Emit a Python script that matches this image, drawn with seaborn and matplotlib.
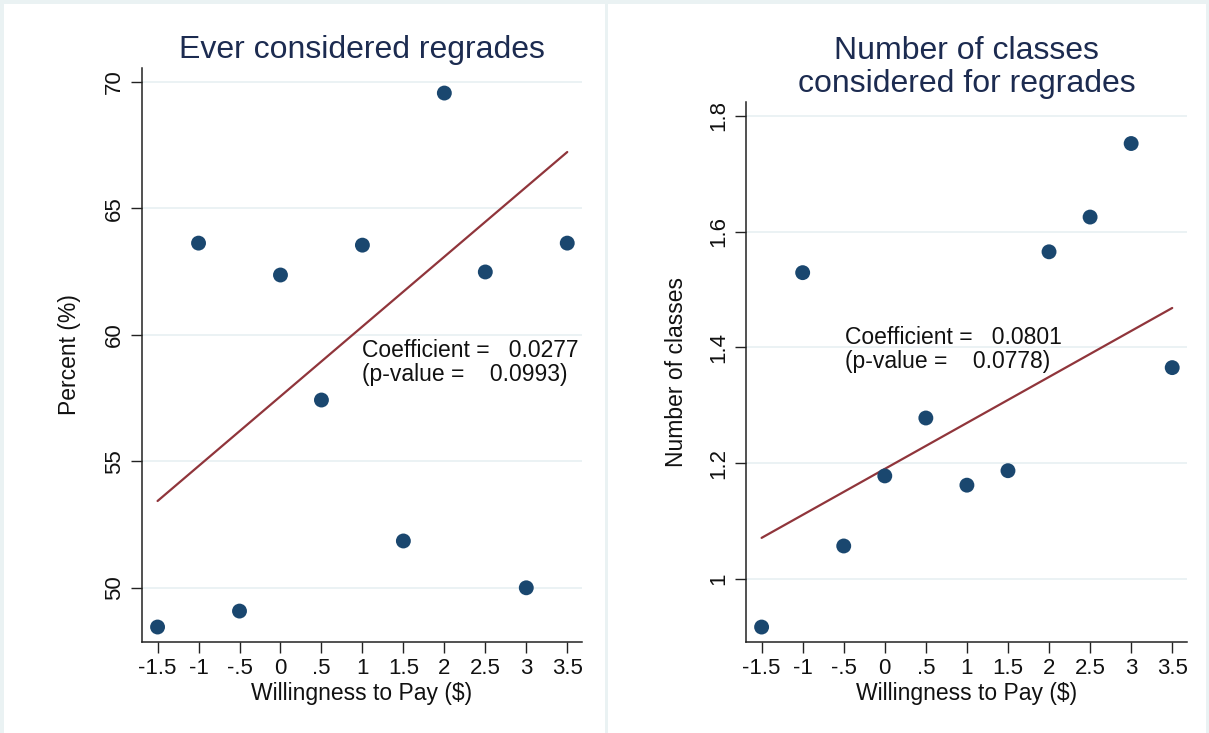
import pandas as pd
import matplotlib.pyplot as plt
import matplotlib.patches as mpatches
import seaborn as sns

# Binned means by willingness to pay
wtp = [-1.5, -1, -0.5, 0, 0.5, 1, 1.5, 2, 2.5, 3, 3.5]
pct_considered = [48.45, 63.62, 49.08, 62.36, 57.42, 63.54, 51.85, 69.55, 62.48, 50.0, 63.62]
num_classes = [0.917, 1.529, 1.057, 1.178, 1.278, 1.162, 1.187, 1.565, 1.625, 1.752, 1.365]

# Fitted lines (endpoints)
fit_x = [-1.5, 3.5]
fit_pct = [53.43, 67.22]
fit_classes = [1.071, 1.468]

xticks = [-1.5, -1, -0.5, 0, 0.5, 1, 1.5, 2, 2.5, 3, 3.5]
xtick_labels = ["-1.5", "-1", "-.5", "0", ".5", "1", "1.5", "2", "2.5", "3", "3.5"]
yticks_pct = [50, 55, 60, 65, 70]
yticks_classes = [1, 1.2, 1.4, 1.6, 1.8]
ytick_labels_classes = ["1", "1.2", "1.4", "1.6", "1.8"]

stats_pct = ("0.0277", "0.0993")
stats_classes = ("0.0801", "0.0778")

df = pd.DataFrame({"wtp": wtp, "pct": pct_considered, "classes": num_classes})
fit_df = pd.DataFrame({"x": fit_x, "pct": fit_pct, "classes": fit_classes})

sns.set_style("white")
plt.rcParams["font.family"] = ["Liberation Sans", "DejaVu Sans"]

dot_color = "#1a476f"
line_color = "#90353b"
grid_color = "#e8f0f2"
title_color = "#1c2b50"

fig = plt.figure(figsize=(12.09, 7.33), dpi=100)
fig.patch.set_facecolor("#eaf2f3")
W, H = 1209, 733
# white panel backgrounds
fig.patches.append(mpatches.Rectangle((4 / W, 0), 601 / W, 729 / H, transform=fig.transFigure,
                                      facecolor="white", edgecolor="none", zorder=-5))
fig.patches.append(mpatches.Rectangle((608 / W, 0), 598 / W, 729 / H, transform=fig.transFigure,
                                      facecolor="white", edgecolor="none", zorder=-5))

ax1 = fig.add_axes([142 / W, 1 - 641.7 / H, 440 / W, (641.7 - 68) / H])
ax2 = fig.add_axes([746 / W, 1 - 641.7 / H, 441 / W, (641.7 - 102) / H])

panels = [
    (ax1, "pct", "Percent (%)", "Ever considered regrades", yticks_pct,
     [str(v) for v in yticks_pct], (47.87, 70.54), stats_pct, (1.0, 58.9), 17),
    (ax2, "classes", "Number of classes", "Number of classes\nconsidered for regrades", yticks_classes,
     ytick_labels_classes, (0.8917, 1.8237), stats_classes, (-0.48, 1.396), 15),
]

for ax, col, ylabel, title, yt, ytl, ylim, stats, txt_pos, ypad in panels:
    ax.set_zorder(1)
    ax.set_facecolor("white")
    for y in yt:
        ax.axhline(y, color=grid_color, lw=1.2, zorder=0)
    sns.lineplot(data=fit_df, x="x", y=col, ax=ax, color=line_color, lw=1.6, zorder=2)
    sns.scatterplot(data=df, x="wtp", y=col, ax=ax, color=dot_color, s=115,
                    edgecolor="none", zorder=3)
    ax.set_xlim(-1.69, 3.68)
    ax.set_ylim(*ylim)
    ax.set_xticks(xticks)
    ax.set_xticklabels(xtick_labels)
    ax.set_yticks(yt)
    ax.set_yticklabels(ytl, rotation=90, va="center")
    ax.tick_params(axis="both", direction="out", length=8, width=1, color="#222222",
                   labelsize=16, pad=4, bottom=True, left=True, labelcolor="#111111")
    ax.set_xlabel("Willingness to Pay ($)", fontsize=16.5, labelpad=2, color="#111111")
    ax.set_ylabel(ylabel, fontsize=16.5, labelpad=ypad, color="#111111")
    ax.set_title(title, fontsize=23, color=title_color, pad=7, linespacing=1.15)
    sns.despine(ax=ax)
    for s in ("left", "bottom"):
        ax.spines[s].set_color("#222222")
        ax.spines[s].set_linewidth(1.1)
    ax.text(txt_pos[0], txt_pos[1], f"Coefficient =   {stats[0]}\n(p-value =    {stats[1]})",
            fontsize=16.5, va="center", ha="left", linespacing=1.05, color="#111111")

fig.savefig("out.png", dpi=100, facecolor=fig.get_facecolor())
